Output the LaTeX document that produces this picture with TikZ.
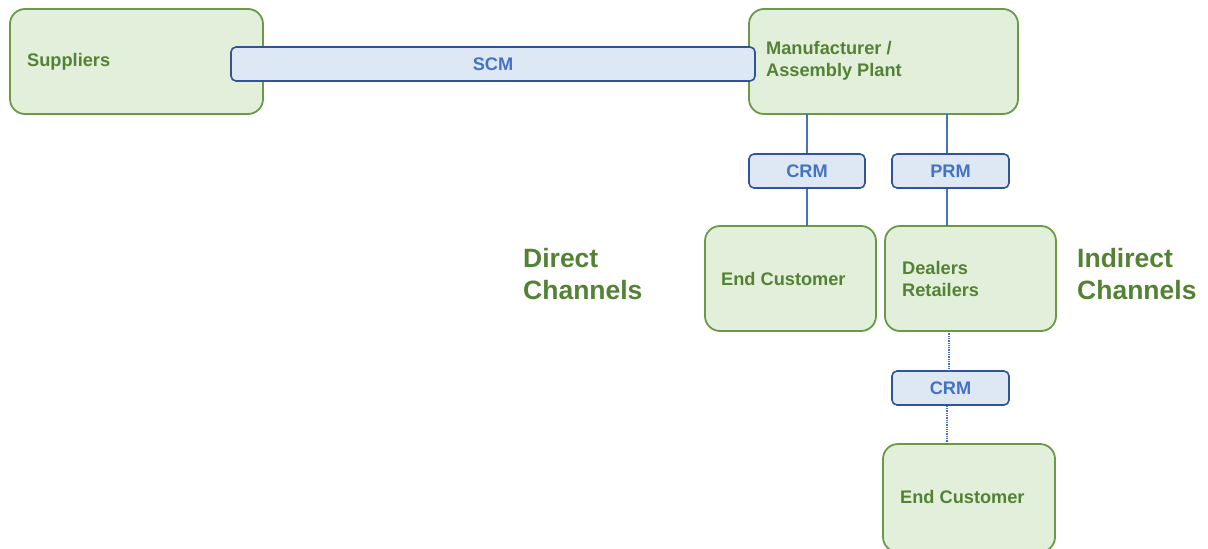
\documentclass[tikz,border=0pt]{standalone}
\usepackage{fontspec}
\setmainfont{Liberation Sans}
\definecolor{gfill}{HTML}{E2EFDA}
\definecolor{gdraw}{HTML}{6A9A48}
\definecolor{gtext}{HTML}{548235}
\definecolor{bfill}{HTML}{DEE8F5}
\definecolor{bdraw}{HTML}{2F5597}
\definecolor{btext}{HTML}{4472C4}
\definecolor{link}{HTML}{4472C4}
\tikzset{
  party/.style={draw=gdraw, fill=gfill, line width=1.8pt, rounded corners=15pt},
  sys/.style={draw=bdraw, fill=bfill, line width=1.6pt, rounded corners=5pt},
  ptext/.style={anchor=west, align=left, text=gtext, font=\fontsize{18.2}{22}\selectfont\bfseries, inner sep=0pt},
  stext/.style={text=btext, font=\fontsize{18.2}{22}\selectfont\bfseries, inner sep=0pt},
  chan/.style={anchor=west, align=left, text=gtext, font=\fontsize{26.5}{32}\selectfont\bfseries, inner sep=0pt},
  conn/.style={draw=link, line width=1.3pt},
  dconn/.style={draw=link, line width=1.3pt, densely dotted}
}
\begin{document}
\begin{tikzpicture}[x=1pt,y=-1pt]
\useasboundingbox (0,0) rectangle (1208,549);
\begin{scope}
\clip (0,0) rectangle (1208,549);
% parties
\path[party] (10,9) rectangle (263,114);
\node[ptext] (supt) at (27,62) {Suppliers};
\path[party] (749,9) rectangle (1018,114);
\node[ptext] (mfrt) at (766,61) {Manufacturer /\\Assembly Plant};
\path[party] (705,226) rectangle (876,331);
\node[ptext] (ec1t) at (721,279) {End Customer};
\path[party] (885,226) rectangle (1056,331);
\node[ptext] (dlrt) at (902,279) {Dealers\\Retailers};
\path[party] (883,444) rectangle (1055,552);
\node[ptext] (ec2t) at (900,497) {End Customer};
% anchors for the party boxes
\coordinate (mfr) at (883.5,114);
\coordinate (ec1) at (790.5,226);
\coordinate (dlrtop) at (947,226);
\coordinate (dlrbot) at (949,331);
\coordinate (ec2) at (947,444);
% systems
\node[sys, minimum width=524pt, minimum height=34pt] (scm) at (493,64) {};
\node[stext] at (scm) {SCM};
\node[sys, minimum width=116pt, minimum height=34pt] (crm1) at (807,171) {};
\node[stext] at (crm1) {CRM};
\node[sys, minimum width=117pt, minimum height=34pt] (prm) at (950.5,171) {};
\node[stext] at (prm) {PRM};
\node[sys, minimum width=117pt, minimum height=34pt] (crm2) at (950.5,388) {};
\node[stext] at (crm2) {CRM};
% links
\draw[conn] (mfr -| crm1.north) -- (crm1.north);
\draw[conn] (crm1.south) -- (ec1 -| crm1.south);
\draw[conn] (mfr -| dlrtop) -- (prm.north -| dlrtop);
\draw[conn] (prm.south -| dlrtop) -- (dlrtop);
\draw[dconn] (dlrbot) -- (crm2.north -| dlrbot);
\draw[dconn] (crm2.south -| ec2) -- (ec2);
% channel labels
\node[chan] (direct) at (523,274) {Direct\\Channels};
\node[chan] (indirect) at (1077,274) {Indirect\\Channels};
\end{scope}
\end{tikzpicture}
\end{document}
